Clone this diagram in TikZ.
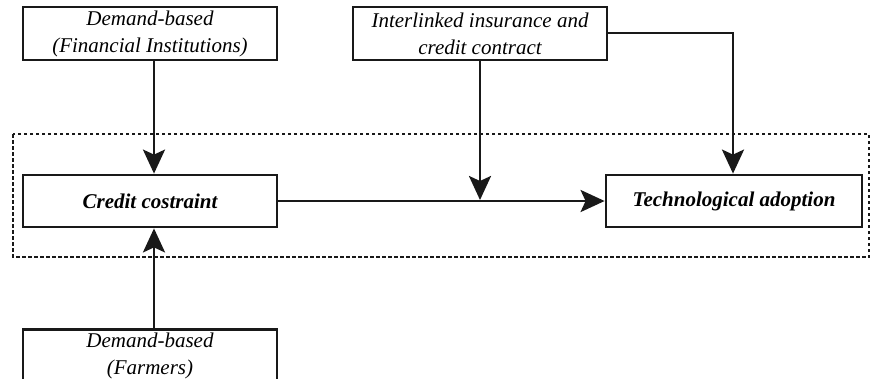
\documentclass[tikz,border=0pt]{standalone}
\usepackage{fontspec}
\setmainfont{Liberation Serif}
\usetikzlibrary{arrows.meta}
\begin{document}
\begin{tikzpicture}[x=1pt,y=-1pt,
  box/.style={draw=black!90, line width=2.8pt, fill=white, minimum width=254pt,
    align=center, inner sep=0pt, font=\fontsize{21}{27}\selectfont\itshape},
  keybox/.style={box, minimum height=52pt, font=\fontsize{21}{27}\selectfont\bfseries\itshape},
  infobox/.style={box, minimum height=53pt},
  link/.style={draw=black!90, line width=2.8pt},
  arrow/.style={link, -{Stealth[length=24pt,width=22pt,inset=5pt]}},
  frame/.style={draw=black!90, line width=2.6pt, dash pattern=on 3.5pt off 2.5pt}]
\useasboundingbox (0,0) rectangle (877,378);
\clip (0,0) rectangle (877,378);

% dashed frame around the core relation
\draw[frame] (13,134) rectangle (869,257);

% boxes
\node[infobox] (fin) at (150,33.5) {Demand-based\\(Financial Institutions)};
\node[infobox] (link) at (480,33.5) {Interlinked insurance and\\credit contract};
\node[keybox] (credit) at (150,201) {Credit costraint};
\node[keybox, minimum width=256pt] (tech) at (734,201) {Technological adoption};
\node[infobox, anchor=north] (farm) at (150,328) {Demand-based\\(Farmers)};

% connectors
\coordinate (meet) at (480,200);
\coordinate (corner) at (733,33);
\draw[arrow] ([xshift=4pt]fin.south) -- ([xshift=4pt]credit.north);
\draw[arrow] ([xshift=4pt]farm.north) -- ([xshift=4pt]credit.south);
\draw[arrow] (credit.east) -- (tech.west);
\draw[arrow] (link.south) -- (meet);
\draw[arrow] (link.east |- corner) -- (corner) -- (corner |- tech.north);
\end{tikzpicture}
\end{document}
